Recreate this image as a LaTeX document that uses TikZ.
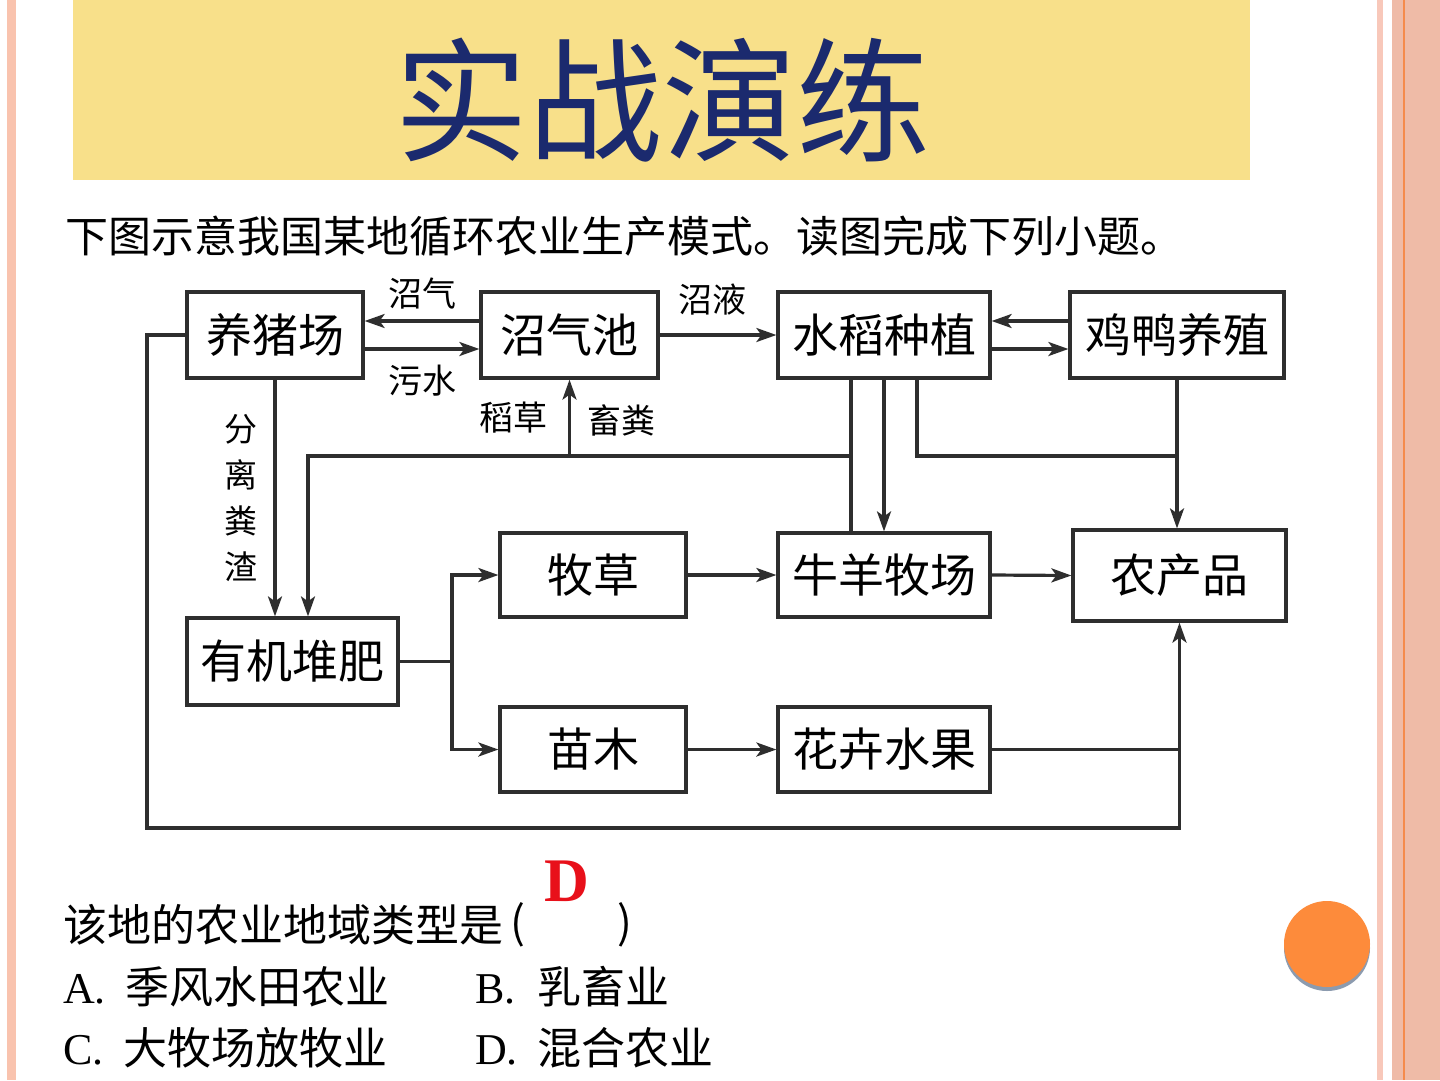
\documentclass[tikz,border=0pt]{standalone}
\usepackage{fontspec}
\setmainfont{Liberation Serif}
\newfontfamily\cjk{Noto Sans CJK SC}
\usepackage{xcolor}
\usepackage{tikz}
\usetikzlibrary{positioning, arrows.meta}

\definecolor{bandyellow}{HTML}{F8E08A}
\definecolor{titlenavy}{HTML}{1B2A6E}
\definecolor{linegray}{HTML}{2E2E2E}
\definecolor{pinkleft}{HTML}{F9C3AE}
\definecolor{pinklight}{HTML}{F8C8BA}
\definecolor{pinkwide}{HTML}{EFBBA7}
\definecolor{orangeline}{HTML}{F58B4C}
\definecolor{dotorange}{HTML}{FD8B3B}
\definecolor{dotshadow}{HTML}{8C9BAF}
\definecolor{answerred}{HTML}{E8101A}

\begin{document}
\begin{tikzpicture}[
    x=1pt, y=-1pt,
    box/.style={rectangle, draw=linegray, line width=3.2pt, inner sep=0pt, align=center, font=\cjk\fontsize{46}{50}\selectfont},
    tag/.style={inner sep=0pt, font=\cjk\fontsize{34}{40}\selectfont},
    arrow/.style={-{Stealth[length=20pt, width=14pt, inset=5pt]}, line width=3.2pt, draw=linegray},
    link/.style={line width=3.2pt, draw=linegray},
    body/.style={inner sep=0pt, anchor=west, font=\fontsize{44}{48}\selectfont},
]
\useasboundingbox (0,0) rectangle (1440,1080);
\fill[white] (0,0) rectangle (1440,1080);

% page decoration
\fill[pinkleft] (7,0) rectangle (16,1080);
\fill[pinklight] (1377,0) rectangle (1383,1080);
\fill[pinkwide] (1392,0) rectangle (1440,1080);
\draw[orangeline, line width=1.2pt] (1404,0) -- (1404,1080);
\fill[bandyellow] (73,0) rectangle (1250,180);
\node[inner sep=0pt, text=titlenavy, font=\cjk\fontsize{134}{140}\selectfont] (title) at (662,100) {实战演练};
\node[body, font=\cjk\fontsize{43}{48}\selectfont] (intro) at (65,236) {下图示意我国某地循环农业生产模式。读图完成下列小题。};

% boxes
\node[box, minimum width=176pt, minimum height=86pt] (pig) at (275,335) {养猪场};
\node[box, minimum width=177pt, minimum height=86pt] (pool) at (569.5,335) {沼气池};
\node[box, minimum width=212pt, minimum height=86pt] (rice) at (884,335) {水稻种植};
\node[box, minimum width=214pt, minimum height=86pt] (duck) at (1177,335) {鸡鸭养殖};
\node[box, minimum width=186pt, minimum height=84pt] (grass) at (593,575) {牧草};
\node[box, minimum width=212pt, minimum height=84pt] (cattle) at (884,575) {牛羊牧场};
\node[box, minimum width=213pt, minimum height=91pt] (prod) at (1179.5,575.5) {农产品};
\node[box, minimum width=211pt, minimum height=87pt] (compost) at (292.5,661.5) {有机堆肥};
\node[box, minimum width=186pt, minimum height=85pt] (seedling) at (593,749.5) {苗木};
\node[box, minimum width=212pt, minimum height=85pt] (flower) at (884,749.5) {花卉水果};

% junctions
\coordinate (straw) at (851,456);
\coordinate (split) at (452,661.5);
\coordinate (loopcorner) at (147,828);

% connectors
\draw[arrow] ([yshift=14pt]pool.west) -- node[tag, above=10pt] (lgas) {沼气} ([yshift=14pt]pig.east);
\draw[arrow] ([yshift=-14pt]pig.east) -- node[tag, below=14pt] (lwater) {污水} ([yshift=-14pt]pool.west);
\draw[arrow] (pool.east) -- node[tag, above=18pt, xshift=-6pt] (lslurry) {沼液} (rice.west);
\draw[arrow] ([yshift=14pt]duck.west) -- ([yshift=14pt]rice.east);
\draw[arrow] ([yshift=-14pt]rice.east) -- ([yshift=-14pt]duck.west);
\draw[arrow] (pig.south) -- node[tag, left=16pt, align=center, font=\cjk\fontsize{33}{46}\selectfont] (lsep) {分\\离\\粪\\渣} (pig.south |- compost.north);
\draw[link] ([xshift=-33pt]rice.south) -- ([xshift=-33pt]cattle.north);
\draw[arrow] (straw) -| ([xshift=15.5pt]compost.north);
\draw[arrow] (pool.south |- straw) -- node[tag, left=20pt] (lstraw) {稻草} node[tag, right=16pt, yshift=-3pt] (lmanure) {畜粪} (pool.south);
\draw[arrow] (rice.south) -- (cattle.north);
\draw[link] ([xshift=33pt]rice.south) |- (duck.south |- straw);
\draw[arrow] (duck.south) -- (duck.south |- prod.north);
\draw[link] (compost.east) -- (split);
\draw[arrow] (split) |- (grass.west);
\draw[arrow] (split) |- (seedling.west);
\draw[arrow] (grass.east) -- (cattle.west);
\draw[arrow] (cattle.east) -- (prod.west);
\draw[arrow] (seedling.east) -- (flower.west);
\draw[link] (flower.east) -- (flower.east -| prod.south);
\draw[arrow] (pig.west) -| (loopcorner) -| (prod.south);

% question
\node[body, font=\cjk\fontsize{44}{48}\selectfont] (question) at (63,925) {该地的农业地域类型是};
\node[inner sep=0pt, font=\cjk\fontsize{44}{48}\selectfont] (lparen) at (518,925) {(};
\node[inner sep=0pt, font=\cjk\fontsize{44}{48}\selectfont] (rparen) at (625,925) {)};
\node[inner sep=0pt, text=answerred, font=\bfseries\fontsize{62}{66}\selectfont] (answer) at (567,881) {D};
\node[body] (optA) at (63,987) {A.\hspace{20pt}{\cjk 季风水田农业}};
\node[body] (optB) at (475,987) {B.\hspace{22pt}{\cjk 乳畜业}};
\node[body] (optC) at (63,1048) {C.\hspace{20pt}{\cjk 大牧场放牧业}};
\node[body] (optD) at (475,1048) {D.\hspace{20pt}{\cjk 混合农业}};

% orange dot
\fill[dotshadow] (1327,948) circle[radius=43];
\fill[dotorange] (1327,944) circle[radius=43];
\end{tikzpicture}
\end{document}
